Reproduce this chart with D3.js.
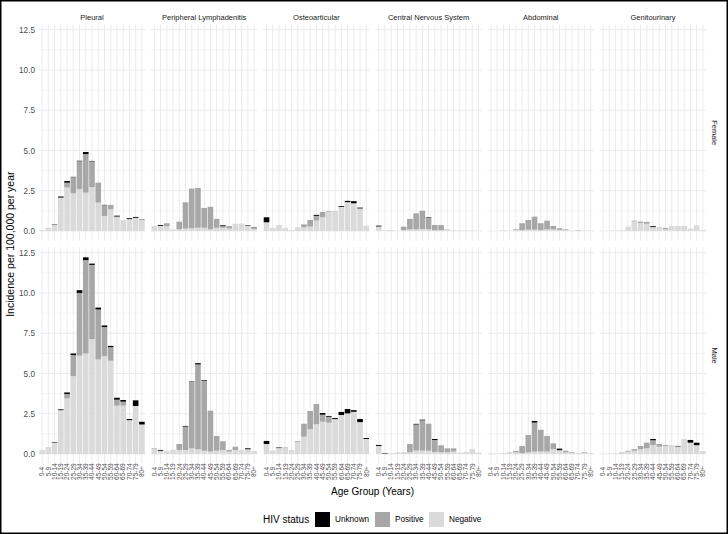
<!DOCTYPE html>
<html>
<head>
<meta charset="utf-8">
<script src="https://cdn.jsdelivr.net/npm/d3@7"></script>
<style>
  html, body { margin: 0; padding: 0; background: #ffffff; }
  svg { display: block; font-family: "Liberation Sans", Arial, Helvetica, sans-serif; }
</style>
</head>
<body>
<script>
// ---------------- DATA ----------------
const ageGroups = ["0-4","5-9","10-14","15-19","20-24","25-29","30-34","35-39","40-44","45-49","50-54","55-59","60-64","65-69","70-74","75-79","80+"];
const sites = ["Pleural","Peripheral Lymphadenitis","Osteoarticular","Central Nervous System","Abdominal","Genitourinary"];
const sexes = ["Female","Male"];
const statuses = ["Unknown","Positive","Negative"];
const statusColors = ["#000000","#a7a7a7","#dadada"];
const yTicks = [0, 2.5, 5, 7.5, 10, 12.5];
const yMinorTicks = [1.25, 3.75, 6.25, 8.75, 11.25];

// Female
const femalePleuralNeg = [0.06,0.2,0.38,2.05,2.7,2.34,2.6,2.38,2.72,1.76,0.93,1.35,0.85,0.68,0.72,0.8,0.7];
const femalePleuralPos = [0,0,0.02,0.03,0.3,1.0,1.73,2.4,1.6,1.24,0.67,0.27,0.05,0,0.02,0.02,0];
const femalePleuralUnk = [0,0,0.02,0.06,0.1,0.02,0.03,0.12,0.03,0,0.02,0,0.05,0,0.05,0.05,0.02];

const femaleLymphNeg = [0.31,0.3,0.3,0.1,0.1,0.15,0.17,0.2,0.2,0.1,0.2,0.2,0.15,0.44,0.46,0.33,0.17];
const femaleLymphPos = [0,0.02,0.18,0,0.48,1.6,2.46,2.47,1.23,1.4,0.55,0.1,0.15,0,0,0.01,0];
const femaleLymphUnk = [0,0.05,0,0,0,0.01,0,0,0,0,0,0.05,0,0,0,0.03,0.04];

const femaleOsteoNeg = [0.54,0.19,0.37,0.17,0.06,0.23,0.23,0.27,0.64,0.85,1.2,1.22,1.5,1.78,1.72,1.4,0.33];
const femaleOsteoPos = [0,0,0,0,0,0,0.18,0.41,0.3,0.27,0.04,0.02,0,0.01,0,0,0];
const femaleOsteoUnk = [0.31,0,0,0,0,0,0,0,0.06,0.02,0,0,0.05,0.08,0.13,0.05,0];

const femaleCnsNeg = [0.28,0.04,0.06,0,0.05,0.1,0.1,0.12,0.1,0.05,0.05,0.08,0.04,0.02,0.02,0.02,0];
const femaleCnsPos = [0,0,0,0,0.22,0.65,1.0,1.14,0.72,0.32,0.32,0.02,0,0,0,0,0];
const femaleCnsUnk = [0.05,0,0,0,0,0,0,0,0.03,0,0,0,0,0,0,0,0];

const femaleAbdNeg = [0,0,0.04,0,0.05,0.05,0.08,0.08,0.05,0.1,0.1,0.07,0.05,0.01,0.04,0.02,0.01];
const femaleAbdPos = [0,0,0,0,0.05,0.43,0.6,0.81,0.43,0.54,0.21,0.1,0.05,0,0.02,0,0];
const femaleAbdUnk = [0,0,0,0,0,0,0,0,0,0,0,0,0,0,0,0,0];

const femaleGuNeg = [0,0.01,0.02,0.04,0.27,0.6,0.5,0.45,0.22,0.25,0.1,0.31,0.31,0.31,0.15,0.35,0.06];
const femaleGuPos = [0,0,0,0,0,0.04,0.08,0.11,0.04,0,0.09,0,0,0,0,0,0];
const femaleGuUnk = [0,0,0,0,0,0,0,0,0.05,0,0,0,0,0,0,0,0];

// Male
const malePleuralNeg = [0.25,0.43,0.7,2.72,3.45,4.83,6.1,6.24,7.13,5.87,6.07,5.79,3.0,3.0,2.1,2.98,1.83];
const malePleuralPos = [0,0,0.01,0,0.27,1.31,3.9,5.8,4.61,3.1,1.81,0.84,0.37,0.25,0,0,0];
const malePleuralUnk = [0,0,0.03,0.05,0.1,0.1,0.17,0.17,0.08,0.12,0.1,0.08,0.12,0.1,0.07,0.35,0.17];

const maleLymphNeg = [0.34,0.2,0.19,0.27,0.25,0.25,0.35,0.29,0.2,0.15,0.2,0.25,0.15,0.25,0.25,0.25,0.19];
const maleLymphPos = [0.03,0,0,0,0.37,1.45,4.15,5.27,4.35,2.54,0.92,0.54,0.1,0.2,0,0.08,0];
const maleLymphUnk = [0,0.05,0,0,0,0.04,0.02,0.08,0.04,0,0,0,0,0,0,0.04,0];

const maleOsteoNeg = [0.62,0.21,0.35,0.38,0.25,0.75,1.07,1.53,1.84,2.0,1.94,2.15,2.42,2.52,2.62,1.98,0.93];
const maleOsteoPos = [0,0,0.03,0.03,0,0.05,0.81,1.14,1.26,0.44,0.37,0.02,0,0,0,0,0];
const maleOsteoUnk = [0.19,0,0.03,0,0,0,0,0,0,0.1,0.05,0.06,0.19,0.27,0.1,0.19,0.06];

const maleCnsNeg = [0.5,0.03,0.04,0.1,0.12,0.1,0.21,0.21,0.2,0.12,0.1,0.1,0.15,0.08,0.12,0.31,0.08];
const maleCnsPos = [0,0,0,0,0,0.52,1.62,1.88,1.68,0.75,0.44,0.25,0.2,0,0,0,0];
const maleCnsUnk = [0.06,0.03,0,0,0,0,0.04,0.04,0,0.06,0,0,0,0,0,0,0];

const maleAbdNeg = [0.02,0.02,0.05,0.08,0.1,0.05,0.1,0.15,0.15,0.15,0.3,0.2,0.1,0.06,0.06,0.08,0.05];
const maleAbdPos = [0,0,0,0.02,0.09,0.45,1.08,1.8,1.35,0.97,0.36,0.05,0.1,0.04,0,0.04,0];
const maleAbdUnk = [0,0,0,0,0,0,0,0.1,0,0,0,0.08,0,0,0,0,0];

const maleGuNeg = [0.01,0.02,0.04,0.1,0.15,0.2,0.3,0.35,0.55,0.45,0.5,0.5,0.47,0.93,0.7,0.53,0.19];
const maleGuPos = [0,0,0,0.02,0.05,0.1,0.2,0.35,0.3,0.17,0.06,0.02,0,0,0,0.02,0];
const maleGuUnk = [0,0,0,0,0,0,0,0,0.08,0,0,0,0.03,0,0.17,0.15,0];

// table built from the arrays: [sex][site] -> [neg,pos,unk]
const table = [
  [[femalePleuralNeg,femalePleuralPos,femalePleuralUnk],
   [femaleLymphNeg,femaleLymphPos,femaleLymphUnk],
   [femaleOsteoNeg,femaleOsteoPos,femaleOsteoUnk],
   [femaleCnsNeg,femaleCnsPos,femaleCnsUnk],
   [femaleAbdNeg,femaleAbdPos,femaleAbdUnk],
   [femaleGuNeg,femaleGuPos,femaleGuUnk]],
  [[malePleuralNeg,malePleuralPos,malePleuralUnk],
   [maleLymphNeg,maleLymphPos,maleLymphUnk],
   [maleOsteoNeg,maleOsteoPos,maleOsteoUnk],
   [maleCnsNeg,maleCnsPos,maleCnsUnk],
   [maleAbdNeg,maleAbdPos,maleAbdUnk],
   [maleGuNeg,maleGuPos,maleGuUnk]]
];

// ---------------- LAYOUT ----------------
const W = 728, H = 534;
const panelLeft0 = 39, pitch = 112.2, panelW = 106;
const rowTops = [24.5, 247.5], panelH = 216.3;

const svg = d3.select("body").append("svg").attr("width", W).attr("height", H);
svg.append("rect").attr("width", W).attr("height", H).attr("fill", "#ffffff");

// y scale domain from data with 5% expansion
let maxTotal = 0;
table.forEach(rows => rows.forEach(([n,p,u]) => n.forEach((v,i) => { maxTotal = Math.max(maxTotal, v + p[i] + u[i]); })));
const ext = maxTotal * 0.05;
const yDomain = [-ext, maxTotal + ext];

const x = d3.scaleBand().domain(ageGroups).range([0, panelW]).paddingInner(0.1).paddingOuter(0.05);
const stack = d3.stack().keys(["Negative","Positive","Unknown"]);
const color = d3.scaleOrdinal().domain(statuses).range(statusColors);

sexes.forEach((sex, r) => {
  const y = d3.scaleLinear().domain(yDomain).range([rowTops[r] + panelH, rowTops[r]]);
  sites.forEach((site, c) => {
    const gx = panelLeft0 + c * pitch;
    const g = svg.append("g").attr("transform", `translate(${gx},0)`);
    // minor grid
    g.selectAll(".ymin").data(yMinorTicks).join("line")
      .attr("x1", 0).attr("x2", panelW)
      .attr("y1", d => y(d)).attr("y2", d => y(d))
      .attr("stroke", "#ebebeb").attr("stroke-width", 0.5);
    // major grid
    g.selectAll(".ymaj").data(yTicks).join("line")
      .attr("x1", 0).attr("x2", panelW)
      .attr("y1", d => y(d)).attr("y2", d => y(d))
      .attr("stroke", "#ebebeb").attr("stroke-width", 1);
    g.selectAll(".xmaj").data(ageGroups).join("line")
      .attr("x1", d => x(d) + x.bandwidth()/2).attr("x2", d => x(d) + x.bandwidth()/2)
      .attr("y1", rowTops[r]).attr("y2", rowTops[r] + panelH)
      .attr("stroke", "#ebebeb").attr("stroke-width", 1);

    const [neg, pos, unk] = table[r][c];
    const rows = ageGroups.map((a, i) => ({age: a, Negative: neg[i], Positive: pos[i], Unknown: unk[i]}));
    const series = stack(rows);
    g.selectAll(".layer").data(series).join("g")
      .attr("fill", d => color(d.key))
      .selectAll("rect").data(d => d).join("rect")
      .attr("x", d => x(d.data.age))
      .attr("width", x.bandwidth())
      .attr("y", d => y(d[1]))
      .attr("height", d => Math.max(0, y(d[0]) - y(d[1])));

    // top strip
    if (r === 0) {
      svg.append("text").attr("x", gx + panelW/2).attr("y", 17)
        .attr("text-anchor", "middle").attr("dominant-baseline", "central")
        .attr("font-size", 7.5).attr("fill", "#1a1a1a").text(site);
    }
    // x axis on bottom row
    if (r === 1) {
      const ax = svg.append("g").attr("transform", `translate(${gx},${rowTops[1] + panelH})`)
        .call(d3.axisBottom(x).tickSize(0));
      ax.select(".domain").remove();
      ax.selectAll("text")
        .attr("x", 0).attr("y", 0).attr("dy", "0.35em")
        .attr("transform", "translate(0,7.8) rotate(-90)")
        .attr("text-anchor", "middle")
        .attr("font-size", 6.5).attr("font-family", "Liberation Sans, Arial, sans-serif")
        .attr("fill", "#4d4d4d");
    }
    // y axis on first column
    if (c === 0) {
      const ay = svg.append("g").attr("transform", `translate(${gx},0)`)
        .call(d3.axisLeft(y).tickValues(yTicks).tickFormat(d3.format(".1f")).tickSize(0).tickPadding(4));
      ay.select(".domain").remove();
      ay.selectAll("text").attr("font-size", 8.2).attr("font-family", "Liberation Sans, Arial, sans-serif").attr("fill", "#4d4d4d");
    }
  });
  // right strip
  const cy = rowTops[r] + panelH/2;
  svg.append("text").attr("transform", `translate(714,${cy}) rotate(90)`)
    .attr("text-anchor", "middle").attr("dominant-baseline", "central")
    .attr("font-size", 7.5).attr("fill", "#1a1a1a").text(sex);
});

// axis titles
svg.append("text").attr("transform", `translate(10,${(rowTops[0] + rowTops[1] + panelH)/2}) rotate(-90)`)
  .attr("text-anchor", "middle").attr("dominant-baseline", "central")
  .attr("font-size", 10.5).attr("fill", "#000").text("Incidence per 100,000 per year");
svg.append("text").attr("x", panelLeft0 + (5*pitch + panelW)/2).attr("y", 491)
  .attr("text-anchor", "middle").attr("dominant-baseline", "central")
  .attr("font-size", 10).attr("fill", "#000").text("Age Group (Years)");

// legend
const legY = 519.5;
svg.append("text").attr("x", 263).attr("y", legY).attr("dominant-baseline", "central")
  .attr("font-size", 10).attr("fill", "#000").text("HIV status");
const keyX = [315, 375, 429];
statuses.forEach((s, i) => {
  svg.append("rect").attr("x", keyX[i]).attr("y", legY - 7.5).attr("width", 15).attr("height", 15)
    .attr("fill", color(s));
  svg.append("text").attr("x", keyX[i] + 20).attr("y", legY).attr("dominant-baseline", "central")
    .attr("font-size", 8.2).attr("fill", "#000").text(s);
});

// outer frame
svg.append("rect").attr("x", 0.75).attr("y", 0.75).attr("width", W - 1.5).attr("height", H - 1.5)
  .attr("fill", "none").attr("stroke", "#000").attr("stroke-width", 1.5);
</script>
</body>
</html>
